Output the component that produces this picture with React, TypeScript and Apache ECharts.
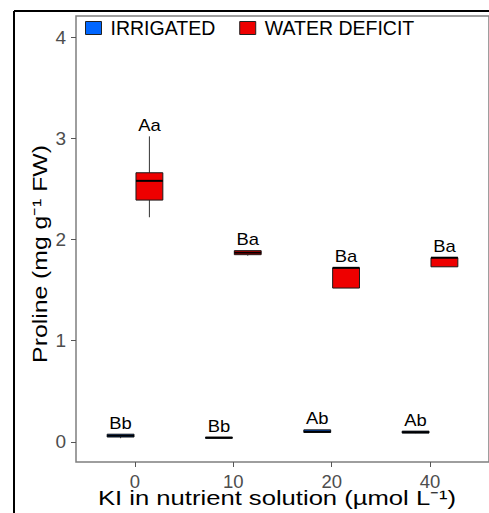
import React, { useEffect, useRef } from "react";
import * as echarts from "echarts";

const categories = ["0", "10", "20", "40"];
const categoryPositions = [1, 2, 3, 4];
const seriesNames = ["IRRIGATED", "WATER DEFICIT"];
const yTicks = [0, 1, 2, 3, 4];
// [min, q1, median, q3, max]
const irrigatedBoxes = [
  [0.035, 0.047, 0.06, 0.075, 0.075],
  [0.035, 0.036, 0.04, 0.045, 0.045],
  [0.088, 0.092, 0.1, 0.118, 0.118],
  [0.085, 0.086, 0.095, 0.105, 0.105],
];
const deficitBoxes = [
  [2.22, 2.39, 2.58, 2.66, 3.02],
  [1.84, 1.85, 1.87, 1.89, 1.89],
  [1.52, 1.52, 1.72, 1.72, 1.72],
  [1.73, 1.73, 1.82, 1.82, 1.82],
];
const irrigatedLetters = ["Bb", "Bb", "Ab", "Ab"];
const deficitLetters = ["Aa", "Ba", "Ba", "Ba"];

const FONT = "Liberation Sans, Arial, sans-serif";
const BLUE = "#0066ff";
const RED = "#ee0000";
const DODGE = 0.1465;
const BOX_W = 0.273;

function makeRender(offset: number, letters: string[], fill: string) {
  return (params: any, api: any) => {
    const x = api.value(0) + offset;
    const lo = api.value(1);
    const q1 = api.value(2);
    const med = api.value(3);
    const q3 = api.value(4);
    const hi = api.value(5);
    const half = api.size([BOX_W, 0])[0] / 2;
    const cx = api.coord([x, q1])[0];
    const yLo = api.coord([x, lo])[1];
    const yQ1 = api.coord([x, q1])[1];
    const yMed = api.coord([x, med])[1];
    const yQ3 = api.coord([x, q3])[1];
    const yHi = api.coord([x, hi])[1];
    return {
      type: "group",
      children: [
        { type: "line", shape: { x1: cx, y1: yHi, x2: cx, y2: yQ3 }, style: { stroke: "#333", lineWidth: 1 } },
        { type: "line", shape: { x1: cx, y1: yQ1, x2: cx, y2: yLo }, style: { stroke: "#333", lineWidth: 1 } },
        {
          type: "rect",
          shape: { x: cx - half, y: yQ3, width: 2 * half, height: Math.max(yQ1 - yQ3, 1) },
          style: { fill, stroke: "#1a1a1a", lineWidth: 1 },
        },
        { type: "line", shape: { x1: cx - half, y1: yMed, x2: cx + half, y2: yMed }, style: { stroke: "#000", lineWidth: 2 } },
        {
          type: "text",
          x: cx,
          y: yHi - 11,
          scaleX: 1.15,
          style: {
            text: letters[params.dataIndex],
            fontSize: 16,
            fontFamily: FONT,
            fill: "#000",
            align: "center",
            verticalAlign: "middle",
          },
        },
      ],
    };
  };
}

export default function App() {
  const ref = useRef<HTMLDivElement>(null);
  useEffect(() => {
    if (!ref.current) return;
    const chart = echarts.init(ref.current, null, { renderer: "svg" });
    const irrData = irrigatedBoxes.map((b, i) => [categoryPositions[i], ...b]);
    const defData = deficitBoxes.map((b, i) => [categoryPositions[i], ...b]);
    chart.setOption({
      animation: false,
      backgroundColor: "#fff",
      grid: {
        left: 76,
        top: 16,
        right: -2,
        bottom: 51,
        show: true,
        borderColor: "#7f7f7f",
        borderWidth: 1.5,
        backgroundColor: "transparent",
      },
      legend: {
        left: 85,
        top: 18,
        padding: 0,
        itemWidth: 16,
        itemHeight: 13,
        itemGap: 24,
        icon: "rect",
        data: [
          { name: seriesNames[0], itemStyle: { color: BLUE, borderColor: "#222", borderWidth: 1 } },
          { name: seriesNames[1], itemStyle: { color: RED, borderColor: "#222", borderWidth: 1 } },
        ],
        textStyle: { fontSize: 19.5, fontFamily: FONT, color: "#000", padding: [0, 0, 0, 4] },
      },
      xAxis: {
        type: "value",
        min: 0.4,
        max: 4.6,
        splitLine: { show: false },
        axisLine: { show: false, onZero: false },
        axisTick: { show: true, customValues: categoryPositions, length: 5, lineStyle: { color: "#555" } },
        axisLabel: {
          customValues: categoryPositions,
          formatter: (v: number) => categories[Math.round(v) - 1],
          fontSize: 18.5,
          fontFamily: FONT,
          color: "#4d4d4d",
          margin: 10,
        },
      },
      yAxis: {
        type: "value",
        min: -0.2,
        max: 4.21,
        splitLine: { show: false },
        axisLine: { show: false, onZero: false },
        axisTick: { show: true, customValues: yTicks, length: 5, lineStyle: { color: "#555" } },
        axisLabel: {
          customValues: yTicks,
          fontSize: 19,
          fontFamily: FONT,
          color: "#4d4d4d",
          margin: 10,
        },
      },
      graphic: [
        { type: "line", shape: { x1: 14, y1: 11, x2: 489, y2: 11 }, style: { stroke: "#000", lineWidth: 2 } },
        { type: "line", shape: { x1: 14, y1: 11, x2: 14, y2: 513 }, style: { stroke: "#000", lineWidth: 2 } },
        {
          type: "text",
          x: 40,
          y: 254,
          rotation: Math.PI / 2,
          scaleX: 1.18,
          style: {
            text: "Proline (mg g⁻¹ FW)",
            fontSize: 21,
            fontFamily: FONT,
            fill: "#000",
            align: "center",
            verticalAlign: "middle",
          },
        },
        {
          type: "text",
          x: 277,
          y: 498,
          scaleX: 1.25,
          style: {
            text: "KI in nutrient solution (µmol L⁻¹)",
            fontSize: 20.5,
            fontFamily: FONT,
            fill: "#000",
            align: "center",
            verticalAlign: "middle",
          },
        },
      ],
      series: [
        {
          name: seriesNames[0],
          type: "custom",
          itemStyle: { color: BLUE },
          encode: { x: 0, y: [1, 2, 3, 4, 5] },
          renderItem: makeRender(-DODGE, irrigatedLetters, BLUE),
          data: irrData,
        },
        {
          name: seriesNames[1],
          type: "custom",
          itemStyle: { color: RED },
          encode: { x: 0, y: [1, 2, 3, 4, 5] },
          renderItem: makeRender(DODGE, deficitLetters, RED),
          data: defData,
        },
      ],
    });
    return () => chart.dispose();
  }, []);
  return <div ref={ref} style={{ position: "fixed", left: 0, top: 0, width: 489, height: 513 }} />;
}
